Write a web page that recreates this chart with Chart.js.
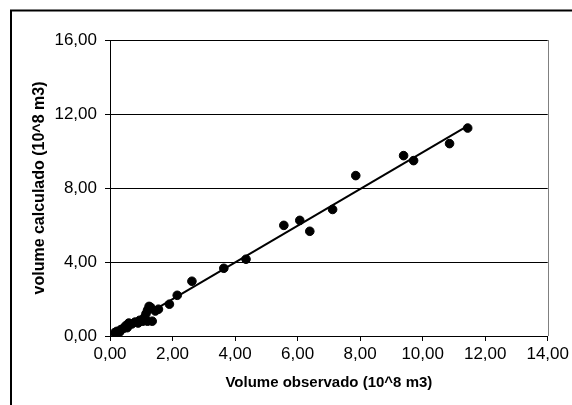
<!DOCTYPE html>
<html>
<head>
<meta charset="utf-8">
<script src="https://cdn.jsdelivr.net/npm/chart.js@4/dist/chart.umd.min.js"></script>
<style>
  html, body { margin: 0; padding: 0; background: #fff; }
  #wrap { width: 572px; height: 405px; position: relative; }
</style>
</head>
<body>
<div id="wrap"><canvas id="c" width="572" height="405"></canvas></div>
<script>
// Observed volume (x) vs calculated volume (y), 10^8 m3
const observed = [0.15, 0.22, 0.30, 0.35, 0.42, 0.50, 0.55, 0.60, 0.70, 0.80, 0.90, 0.95, 1.05, 1.10, 1.15, 1.20, 1.25, 1.30, 1.20, 1.35, 1.45, 1.55, 1.90, 2.15, 2.62, 3.64, 4.35, 5.56, 6.07, 6.39, 7.12, 7.86, 9.39, 9.71, 10.86, 11.44];
const calculated = [0.18, 0.25, 0.20, 0.35, 0.40, 0.55, 0.45, 0.70, 0.65, 0.75, 0.70, 0.85, 0.80, 1.00, 1.20, 1.40, 1.60, 1.55, 0.80, 0.80, 1.35, 1.45, 1.72, 2.20, 2.96, 3.66, 4.15, 5.98, 6.25, 5.66, 6.84, 8.67, 9.75, 9.48, 10.40, 11.24];
// Linear trend line end points
const trendX = [0.15, 11.40];
const trendY = [0.15, 11.32];
const xTickLabels = ['0,00', '2,00', '4,00', '6,00', '8,00', '10,00', '12,00', '14,00'];
const yTickLabels = ['0,00', '4,00', '8,00', '12,00', '16,00'];
const xTitle = 'Volume observado (10^8 m3)';
const yTitle = 'volume calculado (10^8 m3)';

const points = observed.map((x, i) => ({ x: x, y: calculated[i] }));
const trend = trendX.map((x, i) => ({ x: x, y: trendY[i] }));

const frame = {
  id: 'frame',
  beforeDraw(chart) {
    const ctx = chart.ctx;
    ctx.save();
    ctx.fillStyle = '#fff';
    ctx.fillRect(0, 0, chart.width, chart.height);
    ctx.strokeStyle = '#000';
    ctx.lineWidth = 2;
    ctx.strokeRect(11, 10.5, 700, 600);
    ctx.restore();
  },
  beforeDatasetsDraw(chart) {
    const a = chart.chartArea, ctx = chart.ctx;
    ctx.save();
    ctx.strokeStyle = '#808080';
    ctx.lineWidth = 1;
    ctx.beginPath();
    ctx.moveTo(Math.round(a.right) + 0.5, a.top);
    ctx.lineTo(Math.round(a.right) + 0.5, a.bottom);
    ctx.stroke();
    ctx.restore();
  }
};

const tickFont = { family: 'Liberation Sans, Arial, sans-serif', size: 17 };
const yTitleFont = { family: 'Liberation Sans, Arial, sans-serif', size: 16, weight: 'bold' };
const xTitleFont = { family: 'Liberation Sans, Arial, sans-serif', size: 15, weight: 'bold' };

new Chart(document.getElementById('c'), {
  type: 'scatter',
  data: {
    datasets: [
      {
        data: trend,
        showLine: true,
        borderColor: '#000',
        borderWidth: 2,
        pointRadius: 0,
        order: 2
      },
      {
        data: points,
        backgroundColor: '#000',
        borderColor: '#000',
        pointRadius: 4.3,
        pointHoverRadius: 4.3,
        order: 1
      }
    ]
  },
  options: {
    responsive: false,
    animation: false,
    devicePixelRatio: 1,
    layout: { padding: { left: 0, right: 24, top: 40, bottom: 0 } },
    plugins: { legend: { display: false }, tooltip: { enabled: false } },
    scales: {
      x: {
        type: 'linear',
        min: 0, max: 14,
        afterBuildTicks(s) { s.ticks = xTickLabels.map((_, i) => ({ value: i * 2 })); },
        afterFit(s) { s.height = 69; },
        ticks: {
          color: '#000', font: tickFont, padding: 3, maxRotation: 0, autoSkip: false,
          callback: (v, i) => xTickLabels[i]
        },
        grid: { drawOnChartArea: false, drawTicks: true, tickLength: 5, color: '#000' },
        border: { color: '#000', width: 1 },
        title: { display: true, text: xTitle, color: '#000', font: xTitleFont, padding: { top: 0, bottom: 13 } }
      },
      y: {
        type: 'linear',
        min: 0, max: 16,
        afterBuildTicks(s) { s.ticks = yTickLabels.map((_, i) => ({ value: i * 4 })); },
        afterFit(s) { s.width = 110; },
        ticks: {
          color: '#000', font: tickFont, padding: 8, autoSkip: false,
          callback: (v, i) => yTickLabels[i]
        },
        grid: { drawOnChartArea: true, drawTicks: true, tickLength: 5, color: '#000' },
        border: { color: '#000', width: 1 },
        title: { display: true, text: yTitle, color: '#000', font: yTitleFont, padding: { top: 30, bottom: 0 } }
      }
    }
  },
  plugins: [frame]
});
</script>
</body>
</html>
